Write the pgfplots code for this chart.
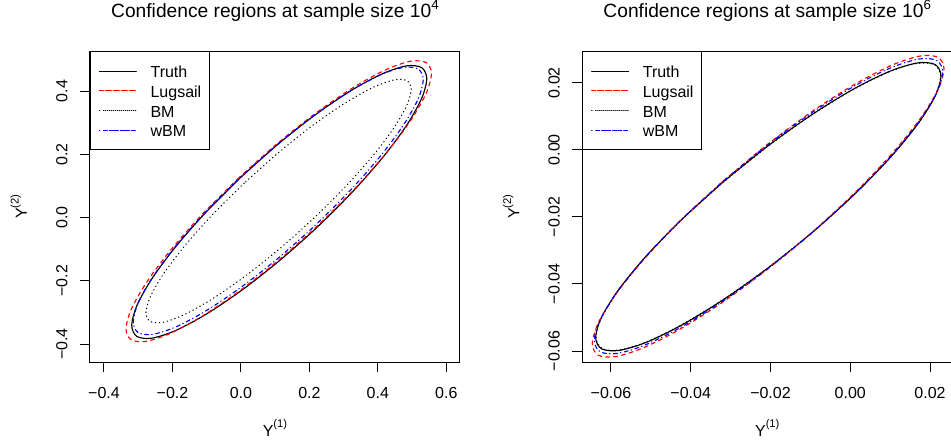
\documentclass[border=0pt]{standalone}
\usepackage{fontspec}
\setmainfont{Liberation Sans}
\usepackage{pgfplots}
\pgfplotsset{compat=1.18}

\pgfplotsset{
  rpanel/.style={
    scale only axis, width=277.5pt, height=233.25pt,
    axis line style={line width=0.75pt},
    tick align=outside, major tick length=7.5pt,
    every tick/.style={black, line width=0.75pt},
    xtick pos=left, ytick pos=left,
    scaled ticks=false,
    tick label style={font=\fontsize{12}{14}\selectfont},
    xticklabel style={anchor=base}, xticklabel shift=20pt,
    yticklabel style={rotate=90, anchor=base}, yticklabel shift=9.5pt,
    title style={at={(0.5,1)}, anchor=base, yshift=19pt, font=\fontsize{14.4}{17}\selectfont},
    xlabel style={at={(0.5,0)}, anchor=base, yshift=-55.5pt, font=\fontsize{12}{14}\selectfont},
    ylabel style={at={([xshift=-47.25pt]axis description cs:0,0.5)}, anchor=base, font=\fontsize{12}{14}\selectfont},
    legend style={at={(0,1)}, anchor=north west, draw=black, line width=0.75pt, fill=white,
      inner xsep=6.2pt, inner ysep=7.35pt, row sep=0pt, column sep=10.5pt,
      font=\fontsize{12}{14}\selectfont,
      nodes={inner sep=0pt, text height=12.35pt, text depth=2.4pt}},
    legend cell align=left,
    legend image code/.code={\path (0pt,0pt) -- (27.5pt,0pt); \draw[##1] (4.5pt,0pt) -- (27.5pt,0pt);},
  },
  truth/.style={black, line width=0.85pt, smooth, solid, line cap=round},
  lug/.style={red, line width=0.85pt, smooth, line cap=round, dash pattern=on 3pt off 3pt},
  bm/.style={black, line width=0.85pt, smooth, line cap=round, dash pattern=on 0.4pt off 2.6pt},
  wbm/.style={blue, line width=0.85pt, smooth, line cap=round, dash pattern=on 0.4pt off 2.6pt on 3pt off 2.25pt},
}

\newcommand{\sups}[1]{\raisebox{6.2pt}{\fontsize{8.4}{9}\selectfont(#1)}}
\newcommand{\tpow}[1]{\raisebox{6pt}{\fontsize{10}{12}\selectfont #1}}

\begin{document}
\begin{tikzpicture}

% left panel: sample size 10^4
\begin{axis}[rpanel, at={(67.5pt,61.5pt)}, anchor=south west,
  xmin=-0.4409, xmax=0.640, ymin=-0.4569, ymax=0.5265,
  xtick={-0.4,-0.2,0,0.2,0.4,0.6},
  xticklabels={−0.4,−0.2,0.0,0.2,0.4,0.6},
  ytick={-0.4,-0.2,0,0.2,0.4},
  yticklabels={−0.4,−0.2,0.0,0.2,0.4},
  title={Confidence regions at sample size 10\tpow{4}},
  xlabel={Y\sups{1}}, ylabel={Y\sups{2}},
  ]
\addplot[truth] coordinates {
(0.0005,0.1278) (-0.1035,0.0151) (-0.1928,-0.0953) (-0.2613,-0.1957) (-0.3043,-0.2796)
(-0.3190,-0.3410) (-0.3043,-0.3758) (-0.2613,-0.3817) (-0.1928,-0.3583) (-0.1035,-0.3071)
(0.0005,-0.2316) (0.1120,-0.1370) (0.2235,-0.0298) (0.3275,0.0829) (0.4168,0.1933)
(0.4853,0.2937) (0.5283,0.3776) (0.5430,0.4390) (0.5283,0.4738) (0.4853,0.4797)
(0.4168,0.4563) (0.3275,0.4051) (0.2235,0.3296) (0.1120,0.2350) (0.0005,0.1278)};
\addlegendentry{Truth}
\addplot[lug] coordinates {
(-0.0050,0.1266) (-0.1126,0.0106) (-0.2050,-0.1027) (-0.2759,-0.2054) (-0.3205,-0.2906)
(-0.3357,-0.3525) (-0.3205,-0.3868) (-0.2759,-0.3914) (-0.2050,-0.3657) (-0.1126,-0.3116)
(-0.0050,-0.2328) (0.1105,-0.1345) (0.2260,-0.0236) (0.3336,0.0924) (0.4260,0.2057)
(0.4969,0.3084) (0.5415,0.3936) (0.5567,0.4555) (0.5415,0.4898) (0.4969,0.4944)
(0.4260,0.4687) (0.3336,0.4146) (0.2260,0.3358) (0.1105,0.2375) (-0.0050,0.1266)};
\addlegendentry{Lugsail}
\addplot[bm] coordinates {
(0.0097,0.1087) (-0.0838,0.0081) (-0.1640,-0.0894) (-0.2256,-0.1773) (-0.2643,-0.2497)
(-0.2775,-0.3014) (-0.2643,-0.3291) (-0.2256,-0.3307) (-0.1640,-0.3064) (-0.0838,-0.2575)
(0.0097,-0.1877) (0.1100,-0.1014) (0.2103,-0.0047) (0.3038,0.0959) (0.3840,0.1934)
(0.4456,0.2813) (0.4843,0.3537) (0.4975,0.4054) (0.4843,0.4331) (0.4456,0.4347)
(0.3840,0.4104) (0.3038,0.3615) (0.2103,0.2917) (0.1100,0.2054) (0.0097,0.1087)};
\addlegendentry{BM}
\addplot[wbm] coordinates {
(-0.0006,0.1284) (-0.1028,0.0179) (-0.1905,-0.0901) (-0.2578,-0.1885) (-0.3002,-0.2704)
(-0.3146,-0.3303) (-0.3002,-0.3640) (-0.2578,-0.3695) (-0.1905,-0.3461) (-0.1028,-0.2955)
(-0.0006,-0.2212) (0.1090,-0.1283) (0.2186,-0.0230) (0.3208,0.0875) (0.4085,0.1955)
(0.4758,0.2939) (0.5182,0.3758) (0.5326,0.4357) (0.5182,0.4694) (0.4758,0.4749)
(0.4085,0.4515) (0.3208,0.4009) (0.2186,0.3266) (0.1090,0.2337) (-0.0006,0.1284)};
\addlegendentry{wBM}
\end{axis}

% right panel: sample size 10^6
\begin{axis}[rpanel, at={(436.7pt,61.5pt)}, anchor=south west,
  xmin=-0.0672, xmax=0.02558, ymin=-0.06328, ymax=0.02944,
  xtick={-0.06,-0.04,-0.02,0,0.02},
  xticklabels={−0.06,−0.04,−0.02,0.00,0.02},
  ytick={-0.06,-0.04,-0.02,0,0.02},
  yticklabels={−0.06,−0.04,−0.02,0.00,0.02},
  title={Confidence regions at sample size 10\tpow{6}},
  xlabel={Y\sups{1}}, ylabel={Y\sups{2}},
  ]
\addplot[truth] coordinates {
(-0.03175,-0.00948) (-0.04219,-0.02071) (-0.05116,-0.03168) (-0.05804,-0.04164) (-0.06236,-0.04993)
(-0.06384,-0.05597) (-0.06236,-0.05935) (-0.05804,-0.05984) (-0.05116,-0.05742) (-0.04219,-0.05223)
(-0.03175,-0.04464) (-0.02054,-0.03517) (-0.00933,-0.02446) (0.00111,-0.01323) (0.01008,-0.00226)
(0.01696,0.00770) (0.02128,0.01599) (0.02276,0.02203) (0.02128,0.02541) (0.01696,0.02590)
(0.01008,0.02348) (0.00111,0.01829) (-0.00933,0.01070) (-0.02054,0.00123) (-0.03175,-0.00948)};
\addlegendentry{Truth}
\addplot[lug] coordinates {
(-0.03200,-0.00949) (-0.04264,-0.02124) (-0.05177,-0.03269) (-0.05878,-0.04306) (-0.06319,-0.05164)
(-0.06469,-0.05785) (-0.06319,-0.06126) (-0.05878,-0.06166) (-0.05177,-0.05899) (-0.04264,-0.05346)
(-0.03200,-0.04543) (-0.02059,-0.03545) (-0.00918,-0.02421) (0.00146,-0.01246) (0.01059,-0.00101)
(0.01760,0.00936) (0.02201,0.01794) (0.02351,0.02415) (0.02201,0.02756) (0.01760,0.02796)
(0.01059,0.02529) (0.00146,0.01976) (-0.00918,0.01173) (-0.02059,0.00175) (-0.03200,-0.00949)};
\addlegendentry{Lugsail}
\addplot[bm] coordinates {
(-0.03172,-0.00956) (-0.04214,-0.02075) (-0.05109,-0.03168) (-0.05795,-0.04161) (-0.06227,-0.04986)
(-0.06374,-0.05587) (-0.06227,-0.05922) (-0.05795,-0.05971) (-0.05109,-0.05728) (-0.04214,-0.05209)
(-0.03172,-0.04452) (-0.02054,-0.03507) (-0.00936,-0.02438) (0.00106,-0.01319) (0.01001,-0.00226)
(0.01687,0.00767) (0.02119,0.01592) (0.02266,0.02193) (0.02119,0.02528) (0.01687,0.02577)
(0.01001,0.02334) (0.00106,0.01815) (-0.00936,0.01058) (-0.02054,0.00113) (-0.03172,-0.00956)};
\addlegendentry{BM}
\addplot[wbm] coordinates {
(-0.03181,-0.00930) (-0.04235,-0.02080) (-0.05139,-0.03202) (-0.05834,-0.04221) (-0.06270,-0.05067)
(-0.06419,-0.05682) (-0.06270,-0.06025) (-0.05834,-0.06071) (-0.05139,-0.05818) (-0.04235,-0.05284)
(-0.03181,-0.04504) (-0.02050,-0.03532) (-0.00919,-0.02434) (0.00135,-0.01284) (0.01039,-0.00162)
(0.01734,0.00857) (0.02170,0.01703) (0.02319,0.02318) (0.02170,0.02661) (0.01734,0.02707)
(0.01039,0.02454) (0.00135,0.01920) (-0.00919,0.01140) (-0.02050,0.00168) (-0.03181,-0.00930)};
\addlegendentry{wBM}
\end{axis}

\pgfresetboundingbox
\path[use as bounding box] (0pt,0pt) rectangle (713.25pt,333pt);
\end{tikzpicture}
\end{document}
